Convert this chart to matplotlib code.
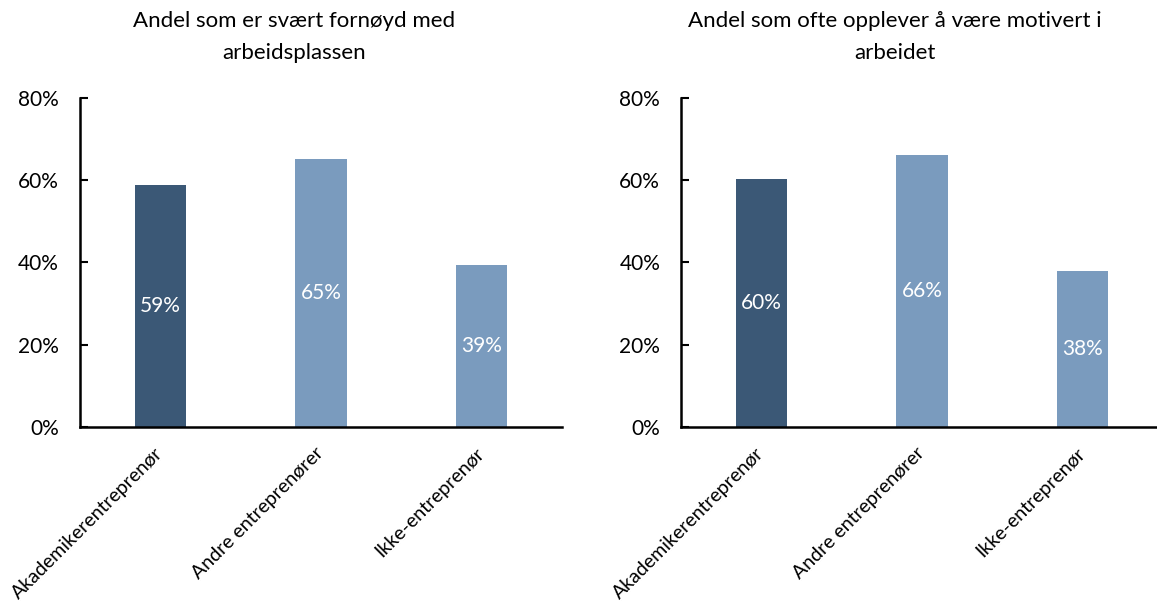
import matplotlib

matplotlib.use("Agg")
import matplotlib.pyplot as plt
from matplotlib.ticker import FuncFormatter

plt.rcParams["font.family"] = ["Lato", "DejaVu Sans"]

categories = ["Akademikerentreprenør", "Andre entreprenører", "Ikke-entreprenør"]
satisfied = [0.587, 0.650, 0.393]
motivated = [0.602, 0.661, 0.379]
titles = [
    "Andel som er svært fornøyd med\narbeidsplassen",
    "Andel som ofte opplever å være motivert i\narbeidet",
]
yticks = [0.0, 0.2, 0.4, 0.6, 0.8]

DARK = "#3B5876"
LIGHT = "#7A9BBE"
bar_colors = [DARK, LIGHT, LIGHT]


def draw_panel(ax, values):
    xs = range(len(categories))
    ax.bar(xs, values, width=0.32, color=bar_colors, zorder=2)
    for x, v in zip(xs, values):
        ax.text(x, v / 2, f"{v * 100:.0f}%", ha="center", va="center",
                color="white", fontsize=15)
    ax.set_xlim(-0.5, 2.5)
    ax.set_ylim(0, 0.8)
    ax.set_yticks(yticks)
    ax.yaxis.set_major_formatter(FuncFormatter(lambda v, _: f"{v * 100:.0f}%"))
    ax.set_xticks(list(xs))
    ax.set_xticklabels(categories, rotation=45, ha="right", va="center",
                       rotation_mode="anchor", fontsize=14)
    ax.tick_params(axis="x", length=0, pad=17)
    ax.tick_params(axis="y", direction="in", length=6, width=1.5, labelsize=15, pad=15)
    for side in ("top", "right"):
        ax.spines[side].set_visible(False)
    for side in ("left", "bottom"):
        ax.spines[side].set_linewidth(1.8)


fig = plt.figure(figsize=(11.57, 6.03), dpi=100)
ax1 = fig.add_axes([0.0691, 0.2919, 0.4166, 0.5461])
ax2 = fig.add_axes([0.5886, 0.2919, 0.4166, 0.5461])
draw_panel(ax1, satisfied)
draw_panel(ax2, motivated)

fig.text(294 / 1157, 1 - 37 / 603, titles[0], ha="center", va="center",
         fontsize=16, linespacing=1.72)
fig.text(895 / 1157, 1 - 37 / 603, titles[1], ha="center", va="center",
         fontsize=16, linespacing=1.72)

fig.savefig("out.png", dpi=100)
